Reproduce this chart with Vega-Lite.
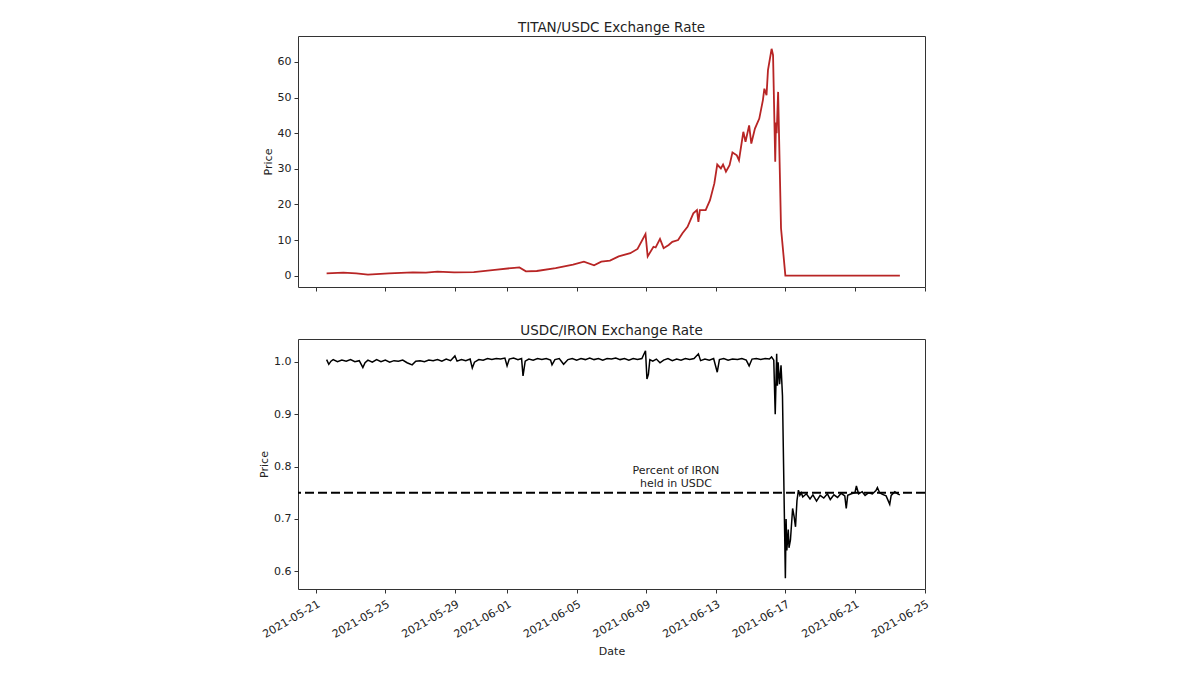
{
  "$schema": "https://vega.github.io/schema/vega-lite/v6.json",
  "padding": {"left": 258, "top": 20, "right": 5, "bottom": 5},
  "background": "white",
  "config": {
    "font": "DejaVu Sans",
    "view": {"stroke": "#333", "strokeWidth": 1},
    "axis": {"grid": false, "domain": false, "tickColor": "#333", "labelColor": "#222", "titleColor": "#222", "labelFontSize": 11, "titleFontSize": 11, "titleFontWeight": "normal", "tickSize": 4, "labelPadding": 3},
    "title": {"fontSize": 13.5, "fontWeight": "normal", "color": "#222", "offset": 2}
  },
  "datasets": {
    "titan": [
      {"date": "2021-05-21T15:00", "price": 0.65},
      {"date": "2021-05-22T14:00", "price": 0.84},
      {"date": "2021-05-23T08:00", "price": 0.6},
      {"date": "2021-05-24T00:00", "price": 0.3},
      {"date": "2021-05-25T05:00", "price": 0.65},
      {"date": "2021-05-26T14:00", "price": 0.93},
      {"date": "2021-05-27T08:00", "price": 0.85},
      {"date": "2021-05-28T00:00", "price": 1.1},
      {"date": "2021-05-28T23:00", "price": 0.93},
      {"date": "2021-05-30T02:00", "price": 1.0},
      {"date": "2021-05-31T07:00", "price": 1.6},
      {"date": "2021-06-01T10:00", "price": 2.2},
      {"date": "2021-06-01T17:00", "price": 2.3},
      {"date": "2021-06-02T02:00", "price": 1.2},
      {"date": "2021-06-02T17:00", "price": 1.3},
      {"date": "2021-06-03T19:00", "price": 2.1},
      {"date": "2021-06-04T19:00", "price": 3.1},
      {"date": "2021-06-05T10:00", "price": 3.9},
      {"date": "2021-06-06T00:00", "price": 2.9},
      {"date": "2021-06-06T10:00", "price": 3.9},
      {"date": "2021-06-06T22:00", "price": 4.2},
      {"date": "2021-06-07T10:00", "price": 5.4},
      {"date": "2021-06-08T02:00", "price": 6.3},
      {"date": "2021-06-08T12:00", "price": 7.5},
      {"date": "2021-06-08T23:00", "price": 11.7},
      {"date": "2021-06-09T02:00", "price": 5.4},
      {"date": "2021-06-09T10:00", "price": 8.1},
      {"date": "2021-06-09T13:00", "price": 7.9},
      {"date": "2021-06-09T19:00", "price": 10.3},
      {"date": "2021-06-10T00:00", "price": 7.7},
      {"date": "2021-06-10T07:00", "price": 8.6},
      {"date": "2021-06-10T12:00", "price": 9.5},
      {"date": "2021-06-10T20:00", "price": 10.0},
      {"date": "2021-06-11T02:00", "price": 11.9},
      {"date": "2021-06-11T09:00", "price": 13.7},
      {"date": "2021-06-11T17:00", "price": 17.5},
      {"date": "2021-06-11T22:00", "price": 18.4},
      {"date": "2021-06-12T00:00", "price": 15.1},
      {"date": "2021-06-12T02:00", "price": 18.4},
      {"date": "2021-06-12T10:00", "price": 18.4},
      {"date": "2021-06-12T16:00", "price": 21.2},
      {"date": "2021-06-12T22:00", "price": 25.9},
      {"date": "2021-06-13T02:00", "price": 31.2},
      {"date": "2021-06-13T07:00", "price": 30.1},
      {"date": "2021-06-13T10:00", "price": 31.2},
      {"date": "2021-06-13T14:00", "price": 29.2},
      {"date": "2021-06-13T19:00", "price": 31.0},
      {"date": "2021-06-13T23:00", "price": 34.6},
      {"date": "2021-06-14T05:00", "price": 33.8},
      {"date": "2021-06-14T08:00", "price": 32.4},
      {"date": "2021-06-14T14:00", "price": 40.4},
      {"date": "2021-06-14T17:00", "price": 37.6},
      {"date": "2021-06-14T22:00", "price": 42.2},
      {"date": "2021-06-15T01:00", "price": 37.1},
      {"date": "2021-06-15T06:00", "price": 41.3},
      {"date": "2021-06-15T12:00", "price": 44.1},
      {"date": "2021-06-15T17:00", "price": 49.3},
      {"date": "2021-06-15T19:00", "price": 52.5},
      {"date": "2021-06-15T22:00", "price": 50.7},
      {"date": "2021-06-16T00:00", "price": 57.7},
      {"date": "2021-06-16T05:00", "price": 63.7},
      {"date": "2021-06-16T07:00", "price": 61.9},
      {"date": "2021-06-16T10:00", "price": 32.0},
      {"date": "2021-06-16T11:00", "price": 43.0},
      {"date": "2021-06-16T12:00", "price": 40.0},
      {"date": "2021-06-16T14:00", "price": 51.6},
      {"date": "2021-06-16T18:00", "price": 13.3},
      {"date": "2021-06-17T00:00", "price": 0.03},
      {"date": "2021-06-18T12:00", "price": 0.02},
      {"date": "2021-06-20T12:00", "price": 0.01},
      {"date": "2021-06-23T14:00", "price": 0.01}
    ],
    "iron": [
      {"date": "2021-05-21T15:00", "price": 1.004},
      {"date": "2021-05-21T18:00", "price": 0.995},
      {"date": "2021-05-21T21:00", "price": 1.001},
      {"date": "2021-05-22T00:00", "price": 1.004},
      {"date": "2021-05-22T06:00", "price": 1.000},
      {"date": "2021-05-22T12:00", "price": 1.003},
      {"date": "2021-05-22T18:00", "price": 1.001},
      {"date": "2021-05-23T00:00", "price": 1.004},
      {"date": "2021-05-23T06:00", "price": 1.000},
      {"date": "2021-05-23T12:00", "price": 1.002},
      {"date": "2021-05-23T17:00", "price": 0.989},
      {"date": "2021-05-23T20:00", "price": 0.998},
      {"date": "2021-05-24T00:00", "price": 1.003},
      {"date": "2021-05-24T06:00", "price": 0.999},
      {"date": "2021-05-24T12:00", "price": 1.004},
      {"date": "2021-05-24T18:00", "price": 1.000},
      {"date": "2021-05-25T00:00", "price": 1.003},
      {"date": "2021-05-25T06:00", "price": 0.999},
      {"date": "2021-05-25T12:00", "price": 1.002},
      {"date": "2021-05-25T18:00", "price": 1.001},
      {"date": "2021-05-26T00:00", "price": 1.003},
      {"date": "2021-05-26T06:00", "price": 0.998},
      {"date": "2021-05-26T13:00", "price": 0.994},
      {"date": "2021-05-26T18:00", "price": 1.001},
      {"date": "2021-05-27T00:00", "price": 1.002},
      {"date": "2021-05-27T06:00", "price": 1.000},
      {"date": "2021-05-27T12:00", "price": 1.003},
      {"date": "2021-05-27T18:00", "price": 1.002},
      {"date": "2021-05-28T00:00", "price": 1.004},
      {"date": "2021-05-28T06:00", "price": 1.001},
      {"date": "2021-05-28T12:00", "price": 1.005},
      {"date": "2021-05-28T18:00", "price": 1.002},
      {"date": "2021-05-29T00:00", "price": 1.011},
      {"date": "2021-05-29T03:00", "price": 1.001},
      {"date": "2021-05-29T09:00", "price": 1.004},
      {"date": "2021-05-29T15:00", "price": 1.002},
      {"date": "2021-05-29T21:00", "price": 1.005},
      {"date": "2021-05-30T00:00", "price": 0.988},
      {"date": "2021-05-30T03:00", "price": 0.999},
      {"date": "2021-05-30T09:00", "price": 1.004},
      {"date": "2021-05-30T15:00", "price": 1.003},
      {"date": "2021-05-30T21:00", "price": 1.006},
      {"date": "2021-05-31T03:00", "price": 1.004},
      {"date": "2021-05-31T09:00", "price": 1.006},
      {"date": "2021-05-31T15:00", "price": 1.005},
      {"date": "2021-05-31T21:00", "price": 1.007},
      {"date": "2021-06-01T00:00", "price": 0.992},
      {"date": "2021-06-01T03:00", "price": 1.005},
      {"date": "2021-06-01T09:00", "price": 1.007},
      {"date": "2021-06-01T15:00", "price": 1.004},
      {"date": "2021-06-01T20:00", "price": 1.006},
      {"date": "2021-06-01T22:00", "price": 0.973},
      {"date": "2021-06-02T01:00", "price": 1.001},
      {"date": "2021-06-02T06:00", "price": 1.005},
      {"date": "2021-06-02T12:00", "price": 1.003},
      {"date": "2021-06-02T18:00", "price": 1.006},
      {"date": "2021-06-03T00:00", "price": 1.004},
      {"date": "2021-06-03T06:00", "price": 1.006},
      {"date": "2021-06-03T12:00", "price": 1.003},
      {"date": "2021-06-03T14:00", "price": 0.994},
      {"date": "2021-06-03T18:00", "price": 1.004},
      {"date": "2021-06-04T00:00", "price": 1.006},
      {"date": "2021-06-04T06:00", "price": 0.995},
      {"date": "2021-06-04T12:00", "price": 1.004},
      {"date": "2021-06-04T18:00", "price": 1.006},
      {"date": "2021-06-05T00:00", "price": 1.003},
      {"date": "2021-06-05T06:00", "price": 1.006},
      {"date": "2021-06-05T12:00", "price": 1.004},
      {"date": "2021-06-05T18:00", "price": 1.007},
      {"date": "2021-06-06T00:00", "price": 1.004},
      {"date": "2021-06-06T06:00", "price": 1.006},
      {"date": "2021-06-06T12:00", "price": 1.003},
      {"date": "2021-06-06T18:00", "price": 1.006},
      {"date": "2021-06-07T00:00", "price": 1.005},
      {"date": "2021-06-07T06:00", "price": 1.007},
      {"date": "2021-06-07T12:00", "price": 1.004},
      {"date": "2021-06-07T18:00", "price": 1.006},
      {"date": "2021-06-08T00:00", "price": 1.003},
      {"date": "2021-06-08T06:00", "price": 1.006},
      {"date": "2021-06-08T12:00", "price": 1.004},
      {"date": "2021-06-08T18:00", "price": 1.006},
      {"date": "2021-06-08T23:00", "price": 1.021},
      {"date": "2021-06-09T01:00", "price": 0.967},
      {"date": "2021-06-09T03:00", "price": 0.976},
      {"date": "2021-06-09T05:00", "price": 1.004},
      {"date": "2021-06-09T09:00", "price": 1.001},
      {"date": "2021-06-09T14:00", "price": 1.005},
      {"date": "2021-06-09T19:00", "price": 0.998},
      {"date": "2021-06-10T00:00", "price": 1.003},
      {"date": "2021-06-10T06:00", "price": 1.006},
      {"date": "2021-06-10T12:00", "price": 1.002},
      {"date": "2021-06-10T18:00", "price": 1.005},
      {"date": "2021-06-11T00:00", "price": 1.003},
      {"date": "2021-06-11T06:00", "price": 1.006},
      {"date": "2021-06-11T12:00", "price": 1.004},
      {"date": "2021-06-11T18:00", "price": 1.006},
      {"date": "2021-06-12T00:00", "price": 1.015},
      {"date": "2021-06-12T03:00", "price": 1.002},
      {"date": "2021-06-12T09:00", "price": 1.005},
      {"date": "2021-06-12T15:00", "price": 1.003},
      {"date": "2021-06-12T21:00", "price": 1.006},
      {"date": "2021-06-13T02:00", "price": 0.980},
      {"date": "2021-06-13T05:00", "price": 1.004},
      {"date": "2021-06-13T11:00", "price": 1.006},
      {"date": "2021-06-13T17:00", "price": 1.003},
      {"date": "2021-06-13T23:00", "price": 1.005},
      {"date": "2021-06-14T06:00", "price": 1.004},
      {"date": "2021-06-14T12:00", "price": 1.006},
      {"date": "2021-06-14T18:00", "price": 1.003},
      {"date": "2021-06-14T22:00", "price": 0.992},
      {"date": "2021-06-15T02:00", "price": 1.005},
      {"date": "2021-06-15T08:00", "price": 1.006},
      {"date": "2021-06-15T14:00", "price": 1.004},
      {"date": "2021-06-15T20:00", "price": 1.006},
      {"date": "2021-06-16T02:00", "price": 1.005},
      {"date": "2021-06-16T05:00", "price": 1.009},
      {"date": "2021-06-16T08:00", "price": 1.003},
      {"date": "2021-06-16T10:00", "price": 0.900},
      {"date": "2021-06-16T12:00", "price": 1.015},
      {"date": "2021-06-16T13:00", "price": 0.954},
      {"date": "2021-06-16T14:00", "price": 0.999},
      {"date": "2021-06-16T16:00", "price": 0.957},
      {"date": "2021-06-16T18:00", "price": 0.993},
      {"date": "2021-06-16T20:00", "price": 0.935},
      {"date": "2021-06-17T00:00", "price": 0.587},
      {"date": "2021-06-17T01:00", "price": 0.700},
      {"date": "2021-06-17T02:00", "price": 0.640},
      {"date": "2021-06-17T04:00", "price": 0.680},
      {"date": "2021-06-17T05:00", "price": 0.645},
      {"date": "2021-06-17T07:00", "price": 0.660},
      {"date": "2021-06-17T10:00", "price": 0.720},
      {"date": "2021-06-17T12:00", "price": 0.705},
      {"date": "2021-06-17T14:00", "price": 0.685},
      {"date": "2021-06-17T16:00", "price": 0.735},
      {"date": "2021-06-17T18:00", "price": 0.755},
      {"date": "2021-06-17T20:00", "price": 0.745},
      {"date": "2021-06-17T22:00", "price": 0.750},
      {"date": "2021-06-18T00:00", "price": 0.742},
      {"date": "2021-06-18T05:00", "price": 0.748},
      {"date": "2021-06-18T10:00", "price": 0.738},
      {"date": "2021-06-18T14:00", "price": 0.746},
      {"date": "2021-06-18T19:00", "price": 0.734},
      {"date": "2021-06-19T00:00", "price": 0.745},
      {"date": "2021-06-19T05:00", "price": 0.740},
      {"date": "2021-06-19T10:00", "price": 0.748},
      {"date": "2021-06-19T14:00", "price": 0.737},
      {"date": "2021-06-19T19:00", "price": 0.746},
      {"date": "2021-06-20T00:00", "price": 0.741},
      {"date": "2021-06-20T05:00", "price": 0.749},
      {"date": "2021-06-20T10:00", "price": 0.744},
      {"date": "2021-06-20T12:00", "price": 0.720},
      {"date": "2021-06-20T14:00", "price": 0.745},
      {"date": "2021-06-20T19:00", "price": 0.748},
      {"date": "2021-06-21T00:00", "price": 0.750},
      {"date": "2021-06-21T02:00", "price": 0.763},
      {"date": "2021-06-21T05:00", "price": 0.748},
      {"date": "2021-06-21T10:00", "price": 0.752},
      {"date": "2021-06-21T14:00", "price": 0.745},
      {"date": "2021-06-21T19:00", "price": 0.750},
      {"date": "2021-06-22T00:00", "price": 0.748},
      {"date": "2021-06-22T05:00", "price": 0.754},
      {"date": "2021-06-22T07:00", "price": 0.760},
      {"date": "2021-06-22T10:00", "price": 0.750},
      {"date": "2021-06-22T14:00", "price": 0.747},
      {"date": "2021-06-22T19:00", "price": 0.744},
      {"date": "2021-06-23T00:00", "price": 0.728},
      {"date": "2021-06-23T02:00", "price": 0.745},
      {"date": "2021-06-23T07:00", "price": 0.752},
      {"date": "2021-06-23T11:00", "price": 0.748},
      {"date": "2021-06-23T14:00", "price": 0.746}
    ],
    "share": [
      {"level": 0.75}
    ],
    "note": [
      {"date": "2021-06-10T17:00", "price": 0.802, "label": "Percent of IRON\nheld in USDC"}
    ]
  },
  "spacing": 31,
  "vconcat": [
    {
      "title": "TITAN/USDC Exchange Rate",
      "width": 627,
      "height": 251,
      "data": {"name": "titan"},
      "mark": {"type": "line", "color": "#b82525", "strokeWidth": 1.8},
      "encoding": {
        "x": {
          "field": "date", "type": "temporal",
          "scale": {"domain": [{"year": 2021, "month": 5, "date": 19, "hours": 23, "minutes": 30}, {"year": 2021, "month": 6, "date": 25, "hours": 0, "minutes": 40}]},
          "axis": {"labels": false, "title": null, "values": [
            {"year": 2021, "month": 5, "date": 21}, {"year": 2021, "month": 5, "date": 25}, {"year": 2021, "month": 5, "date": 29},
            {"year": 2021, "month": 6, "date": 1}, {"year": 2021, "month": 6, "date": 5}, {"year": 2021, "month": 6, "date": 9},
            {"year": 2021, "month": 6, "date": 13}, {"year": 2021, "month": 6, "date": 17}, {"year": 2021, "month": 6, "date": 21},
            {"year": 2021, "month": 6, "date": 25}]}
        },
        "y": {
          "field": "price", "type": "quantitative",
          "scale": {"domain": [-3.2, 67.3], "nice": false, "zero": false},
          "axis": {"title": "Price", "values": [0, 10, 20, 30, 40, 50, 60]}
        }
      }
    },
    {
      "title": "USDC/IRON Exchange Rate",
      "width": 627,
      "height": 250,
      "layer": [
        {
          "data": {"name": "iron"},
          "mark": {"type": "line", "color": "#000000", "strokeWidth": 1.5},
          "encoding": {
            "x": {
              "field": "date", "type": "temporal",
              "scale": {"domain": [{"year": 2021, "month": 5, "date": 19, "hours": 23, "minutes": 30}, {"year": 2021, "month": 6, "date": 25, "hours": 0, "minutes": 40}]},
              "axis": {"title": "Date", "format": "%Y-%m-%d", "labelAngle": -30, "labelOverlap": false, "labelPadding": 5, "titlePadding": 6, "values": [
                {"year": 2021, "month": 5, "date": 21}, {"year": 2021, "month": 5, "date": 25}, {"year": 2021, "month": 5, "date": 29},
                {"year": 2021, "month": 6, "date": 1}, {"year": 2021, "month": 6, "date": 5}, {"year": 2021, "month": 6, "date": 9},
                {"year": 2021, "month": 6, "date": 13}, {"year": 2021, "month": 6, "date": 17}, {"year": 2021, "month": 6, "date": 21},
                {"year": 2021, "month": 6, "date": 25}]}
            },
            "y": {
              "field": "price", "type": "quantitative",
              "scale": {"domain": [0.5664, 1.0433], "nice": false, "zero": false},
              "axis": {"title": "Price", "format": ".1f", "values": [0.6, 0.7, 0.8, 0.9, 1.0]}
            }
          }
        },
        {
          "data": {"name": "share"},
          "mark": {"type": "rule", "color": "#000000", "strokeWidth": 2, "strokeDash": [9, 4]},
          "encoding": {
            "y": {"field": "level", "type": "quantitative"}
          }
        },
        {
          "data": {"name": "note"},
          "mark": {"type": "text", "baseline": "top", "align": "center", "lineBreak": "\n", "fontSize": 11, "color": "#222"},
          "encoding": {
            "x": {"field": "date", "type": "temporal"},
            "y": {"field": "price", "type": "quantitative"},
            "text": {"field": "label"}
          }
        }
      ]
    }
  ]
}
